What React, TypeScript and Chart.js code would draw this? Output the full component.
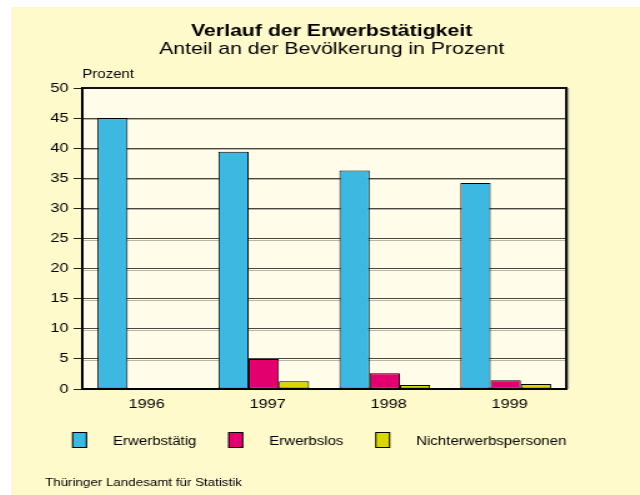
import React, { useEffect, useRef } from "react";
import { Chart, registerables } from "chart.js";

Chart.register(...registerables);

const categories = ["1996", "1997", "1998", "1999"];
const erwerbstaetig = [45.0, 39.4, 36.3, 34.2];
const erwerbslos = [null, 5.0, 2.6, 1.45];
const nichterwerbspersonen = [null, 1.3, 0.65, 0.85];
const seriesLabels = ["Erwerbstätig", "Erwerbslos", "Nichterwerbspersonen"];
const seriesColors = ["#3db9e1", "#e2006f", "#dcd600"];
const yMin = 0;
const yMax = 50;
const yStep = 5;
const titleText = "Verlauf der Erwerbstätigkeit";
const subtitleText = "Anteil an der Bevölkerung in Prozent";
const yAxisTitle = "Prozent";
const sourceText = "Thüringer Landesamt für Statistik";

const FONT = "'Liberation Sans', Arial, Helvetica, sans-serif";
const W = 503; // internal width, stretched to 629 css px
const H = 488;
const PAGE_BG = "#fffacb";
const PLOT_BG = "#fffcea";

const plotBg = {
  id: "plotBg",
  beforeDraw(chart: any) {
    const { ctx, chartArea } = chart;
    ctx.save();
    ctx.fillStyle = PLOT_BG;
    ctx.fillRect(chartArea.left, chartArea.top, chartArea.right - chartArea.left, chartArea.bottom - chartArea.top);
    ctx.restore();
  },
};

const gridShadow = {
  id: "gridShadow",
  beforeDatasetsDraw(chart: any) {
    const { ctx, chartArea, scales } = chart;
    const y = scales.y;
    ctx.save();
    ctx.strokeStyle = "#b9b7a4";
    ctx.lineWidth = 1;
    y.ticks.forEach((t: any) => {
      if (t.value <= yMin || t.value >= yMax) return;
      const py = Math.round(y.getPixelForValue(t.value)) + 1.5;
      ctx.beginPath();
      ctx.moveTo(chartArea.left, py);
      ctx.lineTo(chartArea.right, py);
      ctx.stroke();
    });
    ctx.restore();
  },
};

const frame = {
  id: "frame",
  afterDatasetsDraw(chart: any) {
    const { ctx, chartArea } = chart;
    const { left, right, top, bottom } = chartArea;
    ctx.save();
    // shadow on right
    ctx.strokeStyle = "#a9a797";
    ctx.lineWidth = 1.2;
    ctx.beginPath();
    ctx.moveTo(right + 1.6, top);
    ctx.lineTo(right + 1.6, bottom);
    ctx.stroke();
    ctx.strokeStyle = "#111";
    ctx.lineWidth = 2;
    ctx.beginPath();
    ctx.moveTo(left, top);
    ctx.lineTo(right, top);
    ctx.lineTo(right, bottom);
    ctx.stroke();
    ctx.strokeStyle = "#000";
    ctx.beginPath();
    ctx.moveTo(left, top);
    ctx.lineTo(left, bottom);
    ctx.lineTo(right, bottom);
    ctx.stroke();
    ctx.restore();
  },
};

const texts = {
  id: "texts",
  afterDraw(chart: any) {
    const { ctx, chartArea } = chart;
    ctx.save();
    ctx.fillStyle = "#000";
    ctx.textBaseline = "alphabetic";
    ctx.textAlign = "center";
    ctx.font = `bold 17px ${FONT}`;
    ctx.fillText(titleText, 256.4, 28.5);
    ctx.font = `17px ${FONT}`;
    ctx.fillText(subtitleText, 256.4, 47);
    ctx.textAlign = "left";
    ctx.font = `12px ${FONT}`;
    ctx.fillText(yAxisTitle, chartArea.left, 70.5);

    // legend
    ctx.font = `12px ${FONT}`;
    let x = 48.8;
    const boxTop = 425;
    const boxW = 12;
    const boxH = 16;
    const gapText = 20.8;
    const gapAfter = 25.4;
    chart.data.datasets.forEach((ds: any) => {
      ctx.fillStyle = ds.backgroundColor;
      ctx.fillRect(x, boxTop, boxW, boxH);
      ctx.strokeStyle = "#000";
      ctx.lineWidth = 1;
      ctx.strokeRect(x + 0.5, boxTop + 0.5, boxW - 1, boxH - 1);
      ctx.fillStyle = "#000";
      const tx = x + boxW + gapText;
      ctx.fillText(ds.label, tx, 437.5);
      x = tx + ctx.measureText(ds.label).width + gapAfter;
    });

    ctx.font = `10.7px ${FONT}`;
    ctx.fillText(sourceText, 27.2, 479);
    ctx.restore();
  },
};

export default function App() {
  const canvasRef = useRef<HTMLCanvasElement | null>(null);

  useEffect(() => {
    const canvas = canvasRef.current;
    if (!canvas) return;
    const data = [erwerbstaetig, erwerbslos, nichterwerbspersonen];
    const chart = new Chart(canvas, {
      type: "bar",
      data: {
        labels: categories,
        datasets: seriesLabels.map((label, i) => ({
          label,
          data: data[i] as any,
          backgroundColor: seriesColors[i],
          borderColor: "#000",
          borderWidth: 1,
          borderSkipped: false,
          categoryPercentage: 0.75,
          barPercentage: 1,
        })),
      },
      options: {
        responsive: false,
        maintainAspectRatio: false,
        devicePixelRatio: 1,
        animation: false,
        events: [],
        layout: { padding: { top: 81, right: W - 444, left: 0, bottom: 0 } },
        plugins: {
          legend: { display: false },
          title: { display: false },
          tooltip: { enabled: false },
        },
        scales: {
          x: {
            type: "category",
            offset: true,
            grid: { display: false, drawTicks: false },
            border: { display: true, color: "#000", width: 2 },
            ticks: {
              color: "#000",
              font: { family: FONT, size: 13 },
              padding: 8,
              labelOffset: 3.2,
              maxRotation: 0,
            },
            afterFit(scale: any) {
              scale.height = 106;
            },
          },
          y: {
            min: yMin,
            max: yMax,
            grid: {
              color: "#464646",
              lineWidth: 1,
              drawTicks: true,
              tickLength: 7,
              tickColor: "#222",
            },
            border: { display: true, color: "#000", width: 2 },
            ticks: {
              stepSize: yStep,
              color: "#000",
              font: { family: FONT, size: 13 },
              padding: 4,
            },
            afterFit(scale: any) {
              scale.width = 57;
            },
          },
        },
      },
      plugins: [plotBg, gridShadow, frame, texts],
    });
    return () => chart.destroy();
  }, []);

  return (
    <div
      style={{
        position: "absolute",
        left: 11,
        top: 7,
        width: 629,
        height: H,
        background: PAGE_BG,
      }}
    >
      <canvas
        ref={canvasRef}
        width={W}
        height={H}
        style={{ width: "629px", height: H + "px", display: "block" }}
      />
    </div>
  );
}
